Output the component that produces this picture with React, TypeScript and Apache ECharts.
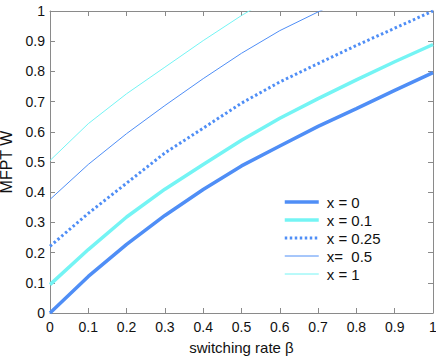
import React, { useEffect, useRef } from "react";
import * as echarts from "echarts";

const betas = [0, 0.1, 0.2, 0.3, 0.4, 0.5, 0.6, 0.7, 0.8, 0.9, 1];
const seriesNames = ["x = 0", "x = 0.1", "x = 0.25", "x=\u00a0 0.5", "x = 1"];
const w0 = [0, 0.121, 0.227, 0.323, 0.409, 0.487, 0.553, 0.618, 0.677, 0.737, 0.796];
const w01 = [0.094, 0.21, 0.318, 0.41, 0.492, 0.572, 0.645, 0.71, 0.772, 0.832, 0.889];
const w025 = [0.221, 0.33, 0.43, 0.53, 0.612, 0.695, 0.765, 0.826, 0.886, 0.943, 1.0];
const w05 = [0.376, 0.492, 0.594, 0.687, 0.776, 0.86, 0.935, 0.997, 1.055];
const w1 = [0.505, 0.627, 0.726, 0.814, 0.902, 0.985, 1.06];
const yTicks = [0, 0.1, 0.2, 0.3, 0.4, 0.5, 0.6, 0.7, 0.8, 0.9, 1];

const BLUE = "#4f8ef6";
const CYAN = "#74f4f4";
const AXIS = "#8a8a8a";
const FONT = "'Liberation Sans', Arial, Helvetica, sans-serif";

export default function App() {
  const ref = useRef<HTMLDivElement>(null);
  useEffect(() => {
    if (!ref.current) return;
    const chart = echarts.init(ref.current, null, { renderer: "svg" });
    const pair = (ys: number[]) => ys.map((y, i) => [betas[i], y]);
    const styles = [
      { color: BLUE, width: 3.5, type: "solid" },
      { color: CYAN, width: 3.5, type: "solid" },
      { color: BLUE, width: 3, type: [2.5, 2.5] },
      { color: BLUE, width: 1, type: "solid" },
      { color: CYAN, width: 1, type: "solid" },
    ];
    const datas = [w0, w01, w025, w05, w1];
    const baseAxis = {
      type: "value",
      min: 0,
      max: 1,
      interval: 0.1,
      axisLine: { show: true, onZero: false, lineStyle: { color: AXIS, width: 1 } },
      axisTick: { show: true, inside: true, length: 5, lineStyle: { color: AXIS } },
      splitLine: { show: false },
    };
    chart.setOption({
      animation: false,
      textStyle: { fontFamily: FONT },
      grid: { left: 50, right: 3, top: 11, bottom: 46, containLabel: false, outerBoundsMode: "none" },
      legend: {
        orient: "vertical",
        left: 278,
        top: 189,
        itemWidth: 34,
        itemHeight: 14,
        itemGap: 2,
        itemStyle: { opacity: 0 },
        textStyle: { fontSize: 15, lineHeight: 16, color: "#111", fontFamily: FONT, padding: [0, 0, 0, 3] },
        data: seriesNames.map((n, i) => ({
          name: n,
          lineStyle: { width: styles[i].width, color: styles[i].color, type: styles[i].type as any },
        })),
      },
      xAxis: [
        {
          ...baseAxis,
          position: "bottom",
          name: "switching rate β",
          nameLocation: "middle",
          nameGap: 27,
          nameTextStyle: { fontSize: 15, color: "#111", fontFamily: FONT },
          axisLabel: { fontSize: 14, color: "#111", margin: 7, fontFamily: FONT,
            formatter: (v: number) => String(Math.round(v * 10) / 10) },
        },
        {
          ...baseAxis,
          position: "top",
          axisLabel: { show: false },
        },
      ],
      yAxis: [
        {
          ...baseAxis,
          position: "left",
          name: "MFPT W",
          nameLocation: "middle",
          nameGap: 33,
          nameRotate: 90,
          nameTextStyle: { fontSize: 16, color: "#111", fontFamily: FONT },
          axisLabel: { fontSize: 14, color: "#111", margin: 5, fontFamily: FONT,
            formatter: (v: number) => String(yTicks[Math.round(v * 10)]) },
        },
        {
          ...baseAxis,
          position: "right",
          axisLabel: { show: false },
        },
      ],
      series: datas.map((d, i) => ({
        name: seriesNames[i],
        type: "line",
        data: pair(d),
        symbol: "none",
        clip: true,
        itemStyle: { color: styles[i].color },
        lineStyle: { color: styles[i].color, width: styles[i].width, type: styles[i].type as any, cap: "butt" },
      })),
    });
    return () => chart.dispose();
  }, []);
  return (
    <div
      ref={ref}
      style={{ position: "fixed", left: 0, top: 0, width: 436, height: 359, background: "#fff" }}
    />
  );
}
